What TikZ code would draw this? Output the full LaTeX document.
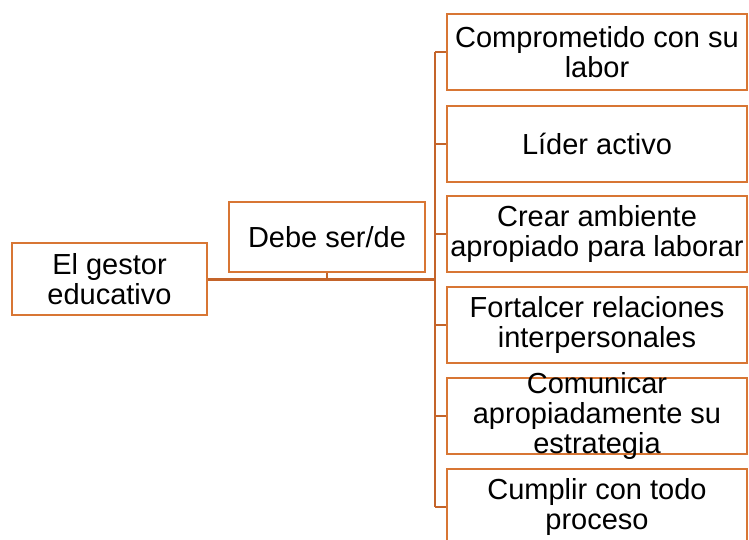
\documentclass[tikz,border=0pt]{standalone}
\usepackage{fontspec}
\setmainfont{Liberation Sans}
\definecolor{boxc}{RGB}{216,118,52}
\definecolor{linec}{RGB}{196,100,42}
\begin{document}
\begin{tikzpicture}[x=1pt,y=-1pt,
  box/.style={draw=boxc,line width=2.8pt,minimum width=#1,inner sep=0pt,fill=white},
  rbox/.style={box=300pt,minimum height=76pt},
  txt/.style={align=center,inner sep=0pt,font=\fontsize{29}{30}\selectfont},
  conn/.style={draw=linec,line width=2.4pt}]
\useasboundingbox (0,0) rectangle (749,540);
% nodes
\node[box=195pt,minimum height=72pt] (g) at (109.5,279) {};
\node[txt] (gt) at (g) {El gestor\\educativo};
\node[box=196pt,minimum height=70pt] (d) at (327,237) {};
\node[txt] (dt) at (d) {Debe ser/de};
\node[rbox] (b1) at (597,52) {};
\node[txt] (t1) at (b1) {Comprometido con su\\labor};
\node[rbox] (b2) at (597,144) {};
\node[txt] (t2) at (b2) {Líder activo};
\node[rbox] (b3) at (597,234) {};
\node[txt] (t3) at (b3) {Crear ambiente\\apropiado para laborar};
\node[rbox] (b4) at (597,325) {};
\node[txt] (t4) at (b4) {Fortalcer relaciones\\interpersonales};
\node[rbox] (b5) at (597,416) {};
\node[txt] (t5) at (b5) {Comunicar\\apropiadamente su\\estrategia};
\node[rbox] (b6) at (597,507) {};
\node[txt] (t6) at (b6) {Cumplir con todo\\proceso};
\coordinate (sp) at (435,279);
% connectors
\draw[conn,line width=3pt] (g.east) -- (sp);
\draw[conn,line width=2pt] (d.south) -- (d.south |- sp);
\draw[conn] (b1.west -| sp) -- (b6.west -| sp);
\foreach \i in {1,...,6} {
  \draw[conn] (b\i.west -| sp) -- (b\i.west);
}
\end{tikzpicture}
\end{document}
